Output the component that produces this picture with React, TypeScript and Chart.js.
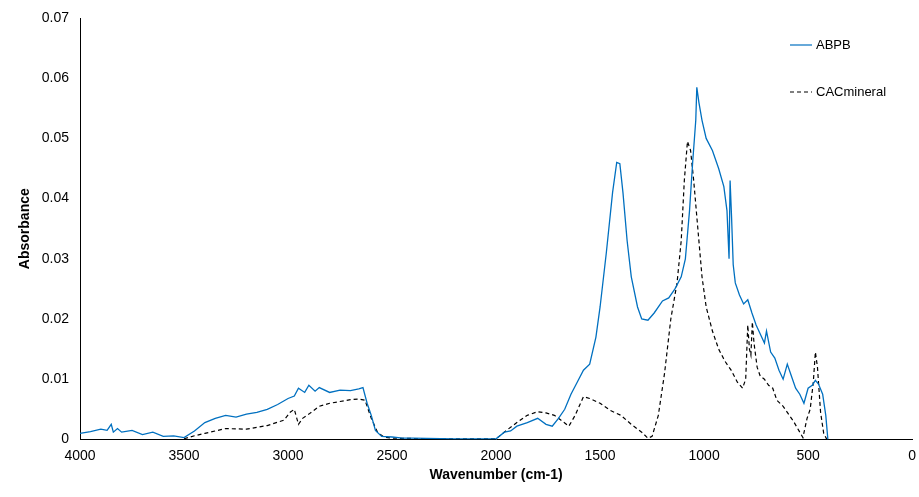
import React, { useEffect, useRef } from 'react';
import { Chart, registerables } from 'chart.js';

Chart.register(...registerables);

// ABPB spectrum: [wavenumber, absorbance]
const abpbWave = [4000, 3950, 3900, 3870, 3850, 3840, 3820, 3800, 3750, 3700, 3650, 3600, 3550, 3500, 3450, 3400, 3350, 3300, 3250, 3200, 3150, 3100, 3050, 3000, 2970, 2950, 2920, 2900, 2870, 2850, 2800, 2750, 2700, 2660, 2640, 2620, 2600, 2580, 2550, 2500, 2450, 2400, 2200, 2000, 1960, 1930, 1900, 1850, 1800, 1760, 1730, 1700, 1670, 1640, 1610, 1580, 1550, 1520, 1500, 1470, 1440, 1420, 1405, 1390, 1370, 1350, 1320, 1300, 1270, 1240, 1200, 1170, 1140, 1110, 1090, 1070, 1055, 1040, 1035, 1025, 1010, 990, 960, 930, 905, 890, 880, 875, 868, 860, 850, 830, 810, 790, 770, 750, 730, 710, 700, 680, 660, 640, 620, 600, 580, 560, 540, 520, 500, 480, 465, 450, 430, 415, 405];
const abpbAbs = [0.001, 0.0013, 0.0017, 0.0015, 0.0025, 0.0012, 0.0018, 0.0012, 0.0015, 0.0008, 0.0012, 0.0005, 0.0006, 0.0003, 0.0014, 0.0028, 0.0035, 0.004, 0.0037, 0.0042, 0.0045, 0.005, 0.0058, 0.0068, 0.0072, 0.0085, 0.0078, 0.009, 0.008, 0.0086, 0.0078, 0.0082, 0.0081, 0.0084, 0.0086, 0.006, 0.004, 0.0015, 0.0005, 0.0004, 0.0002, 0.0002, 0.0001, 0.0001, 0.0012, 0.0014, 0.0022, 0.0028, 0.0035, 0.0025, 0.0022, 0.0035, 0.005, 0.0075, 0.0095, 0.0115, 0.0125, 0.017, 0.022, 0.031, 0.041, 0.046, 0.0458, 0.041, 0.033, 0.027, 0.022, 0.02, 0.0198, 0.021, 0.023, 0.0235, 0.025, 0.027, 0.03, 0.038, 0.046, 0.053, 0.0585, 0.056, 0.053, 0.05, 0.048, 0.045, 0.042, 0.038, 0.03, 0.043, 0.037, 0.029, 0.026, 0.024, 0.0225, 0.0232, 0.021, 0.019, 0.0175, 0.016, 0.018, 0.0145, 0.0135, 0.0115, 0.01, 0.0125, 0.0105, 0.0085, 0.0075, 0.006, 0.0085, 0.009, 0.0098, 0.0092, 0.0075, 0.004, 0.0];

// CACmineral spectrum: [wavenumber, absorbance]
const cacWave = [3500, 3450, 3400, 3350, 3300, 3200, 3100, 3020, 2990, 2970, 2950, 2930, 2900, 2850, 2800, 2750, 2700, 2660, 2630, 2600, 2570, 2540, 2500, 2300, 2000, 1950, 1900, 1850, 1800, 1760, 1720, 1680, 1650, 1620, 1580, 1550, 1500, 1450, 1400, 1350, 1300, 1270, 1250, 1220, 1190, 1160, 1130, 1110, 1095, 1080, 1065, 1050, 1030, 1010, 990, 960, 930, 900, 870, 840, 815, 800, 790, 782, 775, 768, 760, 745, 730, 710, 690, 670, 650, 620, 600, 570, 545, 525, 505, 490, 475, 465, 455, 440, 425, 410];
const cacAbs = [0.0001, 0.0006, 0.001, 0.0014, 0.0018, 0.0017, 0.0023, 0.0032, 0.0045, 0.005, 0.0025, 0.0035, 0.0042, 0.0055, 0.006, 0.0063, 0.0066, 0.0067, 0.0065, 0.0035, 0.0012, 0.0004, 0.0002, 0.0001, 0.0001, 0.0015, 0.0028, 0.004, 0.0046, 0.0044, 0.004, 0.003, 0.0022, 0.004, 0.0071, 0.0068, 0.006, 0.0048, 0.004, 0.0025, 0.0012, 0.0002, 0.0005, 0.004, 0.011, 0.02, 0.026, 0.033, 0.043, 0.0495, 0.048, 0.043, 0.035, 0.027, 0.022, 0.018, 0.015, 0.013, 0.0115, 0.0095, 0.0085, 0.01, 0.019, 0.015, 0.014, 0.0195, 0.016, 0.012, 0.0105, 0.01, 0.009, 0.0085, 0.0065, 0.0055, 0.0045, 0.003, 0.0015, 0.0003, 0.0035, 0.005, 0.0095, 0.0145, 0.012, 0.0045, 0.001, 0.0];

const legendItems = [
  { label: 'ABPB', color: '#0070C0', dash: [] as number[] },
  { label: 'CACmineral', color: '#000000', dash: [4, 3] },
];

const legendPlugin = {
  id: 'sideLegend',
  afterDraw(chart: Chart) {
    const ctx = chart.ctx;
    ctx.save();
    ctx.font = '13px "Liberation Sans", Arial, sans-serif';
    ctx.textBaseline = 'middle';
    legendItems.forEach((item, i) => {
      const y = 45 + i * 47;
      ctx.strokeStyle = item.color;
      ctx.lineWidth = 1.2;
      ctx.setLineDash(item.dash);
      ctx.beginPath();
      ctx.moveTo(790, y);
      ctx.lineTo(812, y);
      ctx.stroke();
      ctx.setLineDash([]);
      ctx.fillStyle = '#000';
      ctx.fillText(item.label, 816, y);
    });
    ctx.restore();
  },
};

const App = () => {
  const canvasRef = useRef<HTMLCanvasElement | null>(null);

  useEffect(() => {
    document.body.style.margin = '0';
    const ctx = canvasRef.current?.getContext('2d');
    if (!ctx) return;
    const font = { family: '"Liberation Sans", Arial, sans-serif', size: 14 };
    const chart = new Chart(ctx, {
      type: 'line',
      data: {
        datasets: [
          {
            label: 'ABPB',
            data: abpbWave.map((w, i) => ({ x: w, y: abpbAbs[i] })),
            borderColor: '#0070C0',
            borderWidth: 1.3,
            pointRadius: 0,
          },
          {
            label: 'CACmineral',
            data: cacWave.map((w, i) => ({ x: w, y: cacAbs[i] })),
            borderColor: '#000000',
            borderWidth: 1.2,
            borderDash: [4, 3],
            pointRadius: 0,
          },
        ],
      },
      options: {
        animation: false,
        responsive: false,
        layout: { padding: { top: 18, right: 4, left: 15, bottom: 13 } },
        plugins: { legend: { display: false }, tooltip: { enabled: false } },
        scales: {
          x: {
            type: 'linear',
            reverse: true,
            min: 0,
            max: 4000,
            ticks: { stepSize: 500, color: '#000', font, maxRotation: 0, callback: (v: any) => String(v) },
            grid: { display: false, drawTicks: true, tickLength: 5 },
            border: { color: '#000' },
            title: { display: true, text: 'Wavenumber (cm-1)', color: '#000', font: { ...font, weight: 'bold' }, padding: 0 },
          },
          y: {
            min: 0,
            max: 0.07,
            ticks: { stepSize: 0.01, color: '#000', font, padding: 6, callback: (v: any) => (v === 0 ? '0' : Number(v).toFixed(2)) },
            grid: { display: false, tickLength: 5 },
            border: { color: '#000' },
            title: { display: true, text: 'Absorbance', color: '#000', font: { ...font, weight: 'bold' }, padding: 2 },
          },
        },
      },
      plugins: [legendPlugin],
    });
    return () => chart.destroy();
  }, []);

  return (
    <div style={{ width: 919, height: 497, background: '#fff' }}>
      <canvas ref={canvasRef} width={919} height={497}></canvas>
    </div>
  );
};

export default App;
